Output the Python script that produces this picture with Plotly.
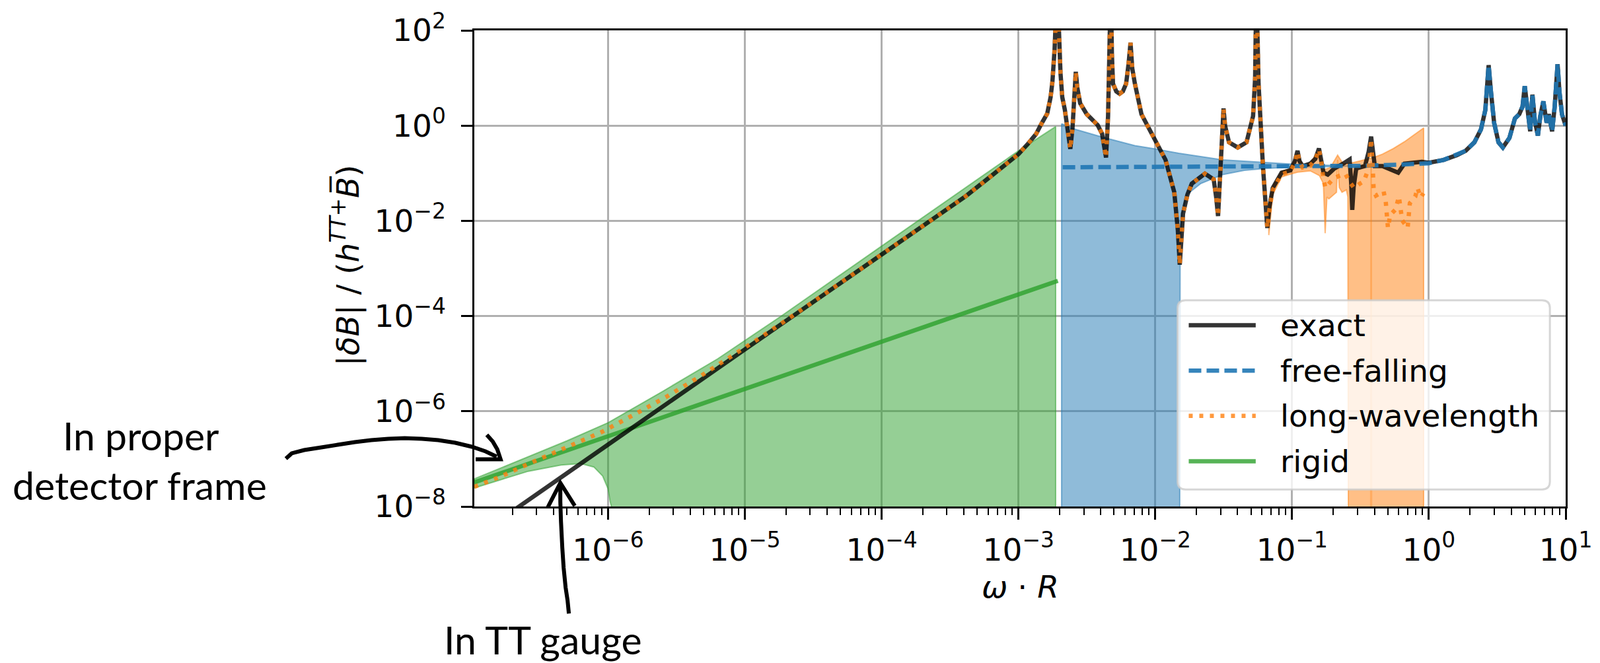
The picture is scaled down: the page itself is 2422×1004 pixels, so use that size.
import numpy as np
import plotly.graph_objects as go

# ---------------- data: (log10(omega*R), log10(|dB|/(h+B))) ----------------
exact = [(-6.75, -8.2), (-6.649, -8.0), (-6.0, -6.70), (-5.0, -4.70), (-4.0, -2.70), (-3.6, -1.90),
         (-3.384, -1.48), (-3.2, -1.06), (-3.0, -0.60), (-2.93, -0.38), (-2.872, -0.18), (-2.83, 0.05),
         (-2.79, 0.25), (-2.765, 0.6), (-2.752, 0.92), (-2.736, 1.6), (-2.725, 2.3), (-2.717, 3.0),
         (-2.708, 2.3), (-2.700, 1.6), (-2.693, 1.11), (-2.68, 0.6), (-2.661, 0.33), (-2.64, -0.1),
         (-2.621, -0.49), (-2.605, -0.05), (-2.592, 0.6), (-2.581, 1.13), (-2.570, 0.8), (-2.549, 0.47),
         (-2.501, 0.24), (-2.421, 0.01), (-2.389, -0.17), (-2.372, -0.4), (-2.360, -0.67), (-2.345, 0.2),
         (-2.335, 1.2), (-2.325, 3.0), (-2.317, 1.5), (-2.309, 0.88), (-2.285, 0.72), (-2.261, 0.67),
         (-2.237, 0.72), (-2.213, 0.88), (-2.195, 1.3), (-2.181, 1.74), (-2.168, 1.2), (-2.149, 0.88),
         (-2.101, 0.24), (-2.005, -0.31), (-1.925, -0.72), (-1.861, -1.40), (-1.835, -2.2), (-1.821, -2.92),
         (-1.81, -2.3), (-1.797, -1.85), (-1.765, -1.45), (-1.733, -1.22), (-1.637, -1.01), (-1.573, -1.13),
         (-1.555, -1.5), (-1.541, -1.90), (-1.525, -1.0), (-1.511, 0.0), (-1.501, 0.36), (-1.49, 0.0),
         (-1.461, -0.35), (-1.397, -0.46), (-1.333, -0.35), (-1.285, 0.20), (-1.27, 1.0), (-1.261, 3.0),
         (-1.253, 1.6), (-1.245, 0.88), (-1.213, -0.85), (-1.195, -1.6), (-1.181, -2.15), (-1.165, -1.7),
         (-1.141, -1.31), (-1.077, -0.99), (-1.013, -0.94), (-0.98, -0.75), (-0.96, -0.53), (-0.945, -0.75),
         (-0.923, -0.85), (-0.867, -0.80), (-0.83, -0.7), (-0.803, -0.48), (-0.785, -0.75), (-0.77, -0.99),
         (-0.739, -1.03), (-0.691, -0.90), (-0.627, -0.80), (-0.579, -0.71), (-0.568, -1.2), (-0.56, -1.77),
         (-0.55, -1.3), (-0.531, -0.90), (-0.467, -0.85), (-0.44, -0.55), (-0.422, -0.23), (-0.405, -0.55),
         (-0.395, -0.85), (-0.339, -0.85), (-0.291, -0.90), (-0.224, -0.99), (-0.179, -0.80), (-0.051, -0.76),
         (0.0, -0.78), (0.109, -0.72), (0.205, -0.62), (0.269, -0.53), (0.333, -0.35), (0.381, -0.08),
         (0.413, 0.33), (0.437, 1.27), (0.453, 0.74), (0.477, 0.06), (0.509, -0.35), (0.541, -0.46),
         (0.589, -0.26), (0.629, 0.15), (0.661, 0.24), (0.685, 0.4), (0.701, 0.83), (0.72, 0.3),
         (0.741, -0.12), (0.757, 0.65), (0.775, 0.1), (0.797, -0.21), (0.815, 0.2), (0.837, 0.51),
         (0.861, 0.06), (0.877, 0.24), (0.901, -0.12), (0.92, 0.4), (0.941, 1.29), (0.955, 0.7),
         (0.973, 0.24), (1.0, 0.0)]

free_falling_flat = [(-2.677, -0.875), (-1.0, -0.86), (-0.5, -0.845), (-0.2, -0.82), (0.0, -0.79)]

long_wavelength_low = [(-6.978, -7.586), (-6.792, -7.379), (-6.544, -7.057), (-6.296, -6.759),
                       (-6.048, -6.437), (-5.808, -6.069), (-5.576, -5.70), (-5.344, -5.297),
                       (-5.12, -4.887), (-4.896, -4.47), (-4.5, -3.70)]
long_wavelength_high = [(-1.195, -1.6), (-1.181, -2.15), (-1.165, -1.75), (-1.141, -1.35), (-1.077, -1.02),
                        (-1.013, -0.97), (-0.98, -0.77), (-0.96, -0.55), (-0.945, -0.77), (-0.923, -0.88),
                        (-0.867, -0.84), (-0.83, -0.72), (-0.803, -0.50), (-0.785, -0.78), (-0.771, -1.13),
                        (-0.755, -1.31), (-0.725, -1.2), (-0.691, -1.10), (-0.65, -1.05), (-0.611, -1.01),
                        (-0.575, -1.2), (-0.547, -1.31), (-0.505, -1.22), (-0.475, -1.17), (-0.44, -0.9),
                        (-0.422, -0.28), (-0.41, -0.9), (-0.403, -1.38), (-0.387, -1.47), (-0.36, -1.42),
                        (-0.331, -1.38), (-0.315, -1.60), (-0.299, -2.15), (-0.283, -1.88), (-0.243, -1.76),
                        (-0.219, -1.49), (-0.195, -1.99), (-0.155, -2.15), (-0.147, -1.88), (-0.139, -1.63),
                        (-0.099, -1.49), (-0.083, -1.31), (-0.059, -1.51), (-0.04, -1.42)]

rigid = [(-6.978, -7.494), (-2.712, -3.26)]

green_upper = [(-6.978, -7.42), (-6.6, -6.97), (-6.3, -6.62), (-6.0, -6.24), (-5.6, -5.58), (-5.2, -4.90),
               (-4.744, -4.02), (-4.0, -2.53), (-3.0, -0.53), (-2.728, -0.02)]
green_lower = [(-6.978, -7.61), (-6.744, -7.40), (-6.584, -7.26), (-6.344, -7.13), (-6.2, -7.10),
               (-6.104, -7.17), (-6.04, -7.36), (-6.0, -7.63), (-5.985, -7.9), (-5.976, -8.0),
               (-5.97, -12.0), (-2.728, -12.0)]
blue_upper = [(-2.685, 0.04), (-2.581, -0.08), (-2.389, -0.24), (-2.149, -0.42), (-2.0, -0.49),
              (-1.829, -0.58), (-1.509, -0.72), (-1.189, -0.78), (-1.0, -0.81), (-0.8, -0.83),
              (-0.6, -0.845), (-0.45, -0.85)]
blue_lower = [(-2.685, -12.0), (-1.823, -12.0), (-1.818, -2.6), (-1.805, -1.85), (-1.765, -1.44),
              (-1.669, -1.22), (-1.509, -1.03), (-1.349, -0.94), (-1.189, -0.90), (-1.0, -0.875),
              (-0.8, -0.865), (-0.6, -0.855), (-0.45, -0.85)]
orange_upper = [(-1.17, -1.7), (-1.141, -1.27), (-1.077, -0.96), (-1.013, -0.91), (-0.96, -0.58),
                (-0.923, -0.83), (-0.867, -0.78), (-0.803, -0.52), (-0.77, -0.93), (-0.72, -0.88),
                (-0.667, -0.62), (-0.627, -0.80), (-0.587, -0.80), (-0.5, -0.74), (-0.403, -0.67),
                (-0.339, -0.60), (-0.259, -0.48), (-0.179, -0.34), (-0.099, -0.18), (-0.038, -0.05)]
orange_lower = [(-1.17, -2.3), (-1.141, -1.45), (-1.077, -1.08), (-1.013, -1.02), (-0.96, -0.98),
                (-0.867, -0.95), (-0.80, -1.05), (-0.771, -1.22), (-0.758, -2.26), (-0.745, -1.5),
                (-0.731, -1.54), (-0.675, -1.40), (-0.667, -0.72), (-0.655, -1.3), (-0.635, -1.40),
                (-0.603, -1.35), (-0.592, -1.5), (-0.587, -12.0), (-0.425, -12.0), (-0.422, -0.75),
                (-0.419, -12.0), (-0.038, -12.0)]

x_tick_exp = [-6, -5, -4, -3, -2, -1, 0, 1]
y_tick_exp = [-8, -6, -4, -2, 0, 2]
legend_labels = ["exact", "free-falling", "long-wavelength", "rigid"]


# ---------------- helpers ----------------
def xy(points):
    a = np.array(points, dtype=float)
    return 10 ** a[:, 0], 10 ** a[:, 1]


def polygon(upper, lower):
    return xy(list(upper) + list(lower)[::-1] + [upper[0]])


def sup(e):
    s = str(e).replace("-", "\u2212")
    return "10<sup>" + s + "</sup>"


mid = [p for p in exact if -4.05 < p[0] < -1.2]
long_wavelength = long_wavelength_low + mid + long_wavelength_high
free_falling = free_falling_flat + [p for p in exact if p[0] > 0.05]

BLACK = "rgba(0,0,0,0.8)"
BLUE = "rgba(31,119,180,0.9)"
ORANGE = "rgba(255,127,14,0.8)"
GREEN = "rgba(44,160,44,0.8)"
LW = 6.5
DASH = "19px,8px"
DOT = "6px,10px"

fig = go.Figure()
for up, lo, col in [(green_upper, green_lower, "44,160,44"),
                    (blue_upper, blue_lower, "31,119,180"),
                    (orange_upper, orange_lower, "255,127,14")]:
    px_, py_ = polygon(up, lo)
    fig.add_trace(go.Scatter(x=px_, y=py_, mode="lines", fill="toself",
                             fillcolor=f"rgba({col},0.5)",
                             line=dict(color=f"rgba({col},0.5)", width=2),
                             showlegend=False, hoverinfo="skip"))

x, y = xy(rigid)
fig.add_trace(go.Scatter(x=x, y=y, mode="lines", name="rigid", line=dict(color=GREEN, width=LW), showlegend=False))
x, y = xy(exact)
fig.add_trace(go.Scatter(x=x, y=y, mode="lines", name="exact", line=dict(color=BLACK, width=LW), showlegend=False))
x, y = xy(free_falling)
fig.add_trace(go.Scatter(x=x, y=y, mode="lines", name="free-falling",
                         line=dict(color=BLUE, width=LW, dash=DASH), showlegend=False))
x, y = xy(long_wavelength)
fig.add_trace(go.Scatter(x=x, y=y, mode="lines", name="long-wavelength",
                         line=dict(color=ORANGE, width=LW, dash=DOT), showlegend=False))

# ---------------- layout ----------------
W, H = 2422, 1004
ML, MR, MT, MB = 718, 42, 42, 237
PW, PH = W - ML - MR, H - MT - MB
FONT = "DejaVu Sans"
FS = 47


def pxp(X, Y):
    return (X - ML) / PW, (H - MB - Y) / PH


def path(pts):
    out = []
    for i, (X, Y) in enumerate(pts):
        a, b = pxp(X, Y)
        out.append(("M" if i == 0 else "L") + f"{a:.5f},{b:.5f}")
    return " ".join(out)


minor_vals = [k * 10.0 ** e for e in range(-7, 1) for k in range(2, 10)]

fig.update_layout(
    width=W, height=H, margin=dict(l=ML, r=MR, t=MT, b=MB, pad=0),
    paper_bgcolor="white", plot_bgcolor="white",
    font=dict(family=FONT, size=FS, color="black"),
    showlegend=False,
    xaxis=dict(type="log", range=[-6.978, 1.0], tickvals=[10.0 ** e for e in x_tick_exp],
               ticktext=[sup(e) for e in x_tick_exp], ticks="outside", ticklen=17, tickwidth=2.5,
               tickcolor="black", showline=True, linecolor="black", linewidth=2.5, mirror=True,
               showgrid=True, gridcolor="#b0b0b0", gridwidth=3, zeroline=False,
               ticklabelstandoff=6,
               minor=dict(tickvals=minor_vals, ticks="outside", ticklen=10, tickwidth=2,
                          tickcolor="black", showgrid=False)),
    yaxis=dict(type="log", range=[-8, 2], tickvals=[10.0 ** e for e in y_tick_exp],
               ticktext=[sup(e) for e in y_tick_exp], ticks="outside", ticklen=17, tickwidth=2.5,
               tickcolor="black", showline=True, linecolor="black", linewidth=2.5, mirror=True,
               showgrid=True, gridcolor="#b0b0b0", gridwidth=3, zeroline=False,
               ticklabelstandoff=14),
)

ann = []
# axis titles
ax_, ay_ = pxp(1549, 889)
ann.append(dict(text="<i>\u03c9</i> \u00b7 <i>R</i>", x=ax_, y=ay_, xref="paper", yref="paper",
                xanchor="center", yanchor="middle", showarrow=False, font=dict(size=FS)))
ax_, ay_ = pxp(522, 400)
ann.append(dict(text="|<i>\u03b4B</i>| / (<i>h</i><sup><i>TT</i>+</sup><i>B\u0305</i>)", x=ax_, y=ay_,
                xref="paper", yref="paper", xanchor="center", yanchor="middle", textangle=-90,
                showarrow=False, font=dict(size=FS)))

# hand-written notes
NOTE = dict(family="Lato", size=59, color="black")
for txt, X, Y in [("In proper", 210, 659), ("detector frame", 208, 734), ("In TT gauge", 823, 970)]:
    a, b = pxp(X, Y)
    ann.append(dict(text=txt, x=a, y=b, xref="paper", yref="paper", xanchor="center", yanchor="middle",
                    showarrow=False, font=NOTE))

shapes = []
arrow1 = [(431, 694), (440, 686), (459, 681), (485, 677), (510, 673), (536, 669), (561, 666), (587, 664),
          (612, 663), (638, 664), (663, 666), (689, 670), (714, 676), (735, 683), (752, 691)]
arrow1_head = [(737, 658), (746, 668), (753, 680), (758, 695), (740, 695), (720, 695)]
arrow2 = [(862, 930), (860, 910), (857, 890), (854, 860), (852, 830), (850, 790), (849, 760), (849, 733)]
arrow2_head = [(830, 768), (849, 731), (871, 766)]
for pts in [arrow1, arrow1_head, arrow2, arrow2_head]:
    shapes.append(dict(type="path", xref="paper", yref="paper", path=path(pts),
                       line=dict(color="black", width=6), layer="above"))

# legend (matplotlib-style box)
LX0, LY0, LX1, LY1, RAD = 1789, 453, 2356, 741, 12
a0, b0 = pxp(LX0, LY0)
a1, b1 = pxp(LX1, LY1)
rx, ry = RAD / PW, RAD / PH
box = (f"M{a0 + rx:.5f},{b0:.5f} L{a1 - rx:.5f},{b0:.5f} Q{a1:.5f},{b0:.5f} {a1:.5f},{b0 - ry:.5f} "
       f"L{a1:.5f},{b1 + ry:.5f} Q{a1:.5f},{b1:.5f} {a1 - rx:.5f},{b1:.5f} L{a0 + rx:.5f},{b1:.5f} "
       f"Q{a0:.5f},{b1:.5f} {a0:.5f},{b1 + ry:.5f} L{a0:.5f},{b0 - ry:.5f} Q{a0:.5f},{b0:.5f} {a0 + rx:.5f},{b0:.5f} Z")
shapes.append(dict(type="path", xref="paper", yref="paper", path=box, fillcolor="rgba(255,255,255,0.8)",
                   line=dict(color="rgba(204,204,204,0.8)", width=3), layer="above"))
handle_style = [(BLACK, "solid"), (BLUE, DASH), (ORANGE, DOT), (GREEN, "solid")]
for i, (lab, (col, dash)) in enumerate(zip(legend_labels, handle_style)):
    Yc = 491 + 69 * i
    h0 = pxp(1806, Yc)
    h1 = pxp(1908, Yc)
    shapes.append(dict(type="line", xref="paper", yref="paper", x0=h0[0], y0=h0[1], x1=h1[0], y1=h1[1],
                       line=dict(color=col, width=LW, dash=dash), layer="above"))
    t = pxp(1943, Yc)
    ann.append(dict(text=lab, x=t[0], y=t[1], xref="paper", yref="paper", xanchor="left", yanchor="middle",
                    showarrow=False, font=dict(size=FS)))

fig.update_layout(annotations=ann, shapes=shapes)
fig.write_html("out.html")
